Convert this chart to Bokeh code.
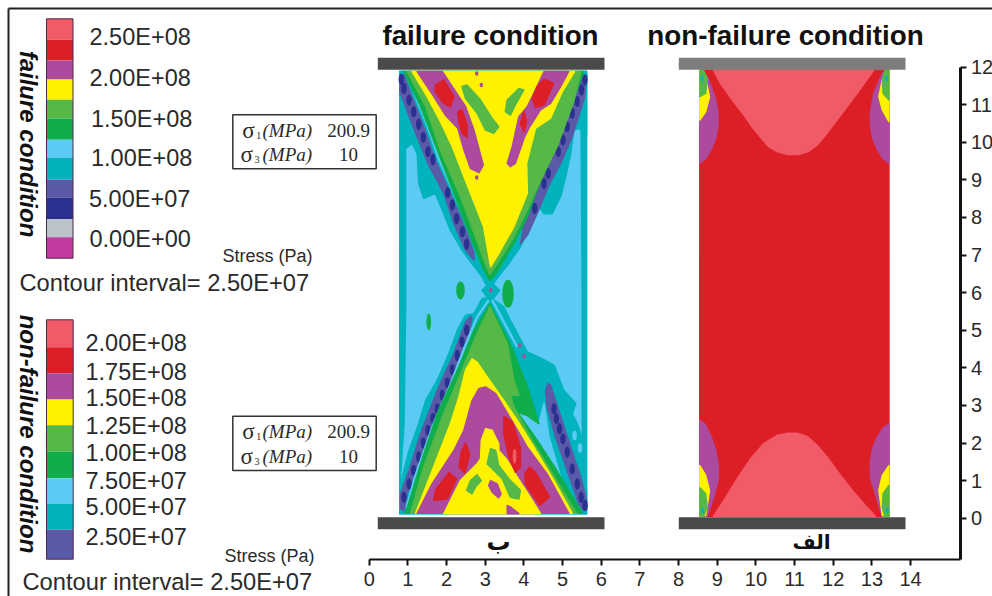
from math import pi
from bokeh.plotting import figure
from bokeh.models import LinearAxis, FixedTicker, Range1d
from bokeh.core.properties import value
from bokeh.embed import file_html
from bokeh.resources import INLINE

# ---------- palette ----------
LR, R, P, Y, G, DG = "#f15a67", "#dc1f26", "#ab4a9e", "#fff200", "#55b847", "#0fae4b"
LB, T, S, N, GR, M = "#5bcbf5", "#00b3bc", "#5a5aa8", "#2b3190", "#b9c3c8", "#c13a9e"

# ---------- legends ----------
LEGEND_A_LABELS = ["2.50E+08", "2.00E+08", "1.50E+08", "1.00E+08", "5.00E+07", "0.00E+00"]
LEGEND_A_COLORS = [LR, R, P, Y, G, DG, LB, T, S, N, GR, M]
LEGEND_B_LABELS = ["2.00E+08", "1.75E+08", "1.50E+08", "1.25E+08", "1.00E+08", "7.50E+07", "5.00E+07", "2.50E+07"]
LEGEND_B_COLORS = [LR, R, P, Y, G, DG, LB, T, S]
X_TICKS = list(range(0, 15))
Y_TICKS = list(range(0, 13))

# ---------- failure specimen outlines (x, y in axis units) ----------
SPEC_A = [(.79, .12), (5.62, .12), (5.62, 11.88), (.79, 11.88)]
EDGE_L = [(.79, 11.88), (.94, 11.88), (.94, 5.5), (.90, 2.5), (.80, 1.0), (.79, .12)]
EDGE_R = [(5.47, 11.88), (5.62, 11.88), (5.62, .12), (5.55, .12), (5.51, 2.5), (5.51, 6.0)]
TEAL_TOP = [(.79, 11.88), (.79, 9.7), (1.11, 9.97), (1.24, 9.70), (1.28, 8.90), (1.41, 8.50), (1.71, 8.64),
            (1.89, 8.19), (2.10, 7.66), (2.40, 7.13), (2.62, 6.82), (2.92, 6.42), (3.01, 6.24), (3.14, 6.10),
            (3.27, 6.33), (3.61, 6.77), (3.91, 7.22), (4.17, 7.75), (4.39, 8.28), (4.52, 8.10), (4.73, 8.10),
            (4.95, 8.55), (5.08, 9.08), (5.21, 9.70), (5.29, 10.32), (5.42, 10.37), (5.62, 10.2), (5.62, 11.88)]
TEAL_MID = [(2.92, 6.06), (3.14, 6.30), (3.37, 6.06), (3.14, 5.75)]
TEAL_BOT = [(.79, .83), (1.03, 1.80), (1.28, 2.51), (1.46, 3.13), (1.76, 3.67), (2.06, 4.38), (2.28, 5.0),
            (2.49, 5.40), (2.71, 5.44), (2.92, 5.84), (3.14, 5.86), (3.48, 5.62), (3.65, 5.26), (4.09, 4.42),
            (4.47, 4.24), (4.78, 4.07), (5.03, 3.40), (5.34, 3.05), (5.25, 2.78), (5.38, 2.51), (5.55, 1.98),
            (5.55, 1.27), (5.62, .74), (5.62, .12), (.79, .12)]
BLUE_WEDGE = [(3.91, 2.85), (4.39, 2.53), (4.52, 3.05), (4.65, 2.16), (4.95, 1.09), (5.25, .20), (5.12, .16),
              (4.34, 1.62), (3.83, 2.73)]
BLUE_SPOT_X, BLUE_SPOT_Y = [5.31, 5.45, 4.17, 4.34], [2.20, 1.87, 2.0, 1.55]

BAND_TL = [(.79, 11.35), (1.15, 10.37), (1.54, 9.39), (1.93, 8.64), (2.19, 7.84), (2.49, 7.13), (2.71, 6.86),
           (2.71, 7.04), (2.53, 7.57), (2.32, 8.10), (2.02, 8.82), (1.71, 9.52), (1.41, 10.41), (1.07, 11.30),
           (.90, 11.79), (.81, 11.79)]
BAND_TR = [(5.62, 11.70), (5.55, 11.12), (5.25, 10.15), (4.99, 9.52), (4.65, 8.86), (4.34, 8.10), (4.09, 7.53),
           (3.91, 7.30), (3.96, 7.53), (4.0, 7.84), (4.26, 8.64), (4.60, 9.44), (4.95, 10.24), (5.21, 10.95),
           (5.51, 11.79)]
BAND_BL = [(2.62, 5.37), (2.49, 5.22), (2.19, 4.38), (1.76, 3.40), (1.33, 2.25), (1.03, 1.27), (.81, .65),
           (.81, .25), (.90, .20), (.98, .65), (1.28, 1.54), (1.63, 2.51), (1.97, 3.31), (2.28, 4.02),
           (2.53, 4.73), (2.66, 5.31)]
BAND_BR = [(4.62, 3.58), (4.56, 3.40), (4.60, 2.96), (4.82, 2.16), (5.12, 1.27), (5.42, .38), (5.55, .20),
           (5.62, .25), (5.62, .47), (5.47, 1.09), (5.21, 1.89), (4.90, 2.87), (4.69, 3.53)]
BEAD_X = [.83, .90, 1.03, 1.15, 1.28, 1.40, 1.52, 1.65, 2.03, 2.15, 2.26, 2.41, 2.52,
          5.58, 5.49, 5.38, 5.25, 5.12, 5.01, 4.89, 4.63, 4.52, 4.28,
          2.52, 2.40, 2.28, 2.15, 2.02, 1.89, 1.76, 1.65, 1.52, 1.40, 1.28, 1.15, 1.03, .90,
          4.78, 4.84, 4.92, 5.01, 5.12, 5.25, 5.38, 5.48, 5.58]
BEAD_Y = [11.67, 11.43, 11.12, 10.81, 10.48, 10.13, 9.75, 9.54, 8.66, 8.33, 7.97, 7.62, 7.29,
          11.66, 11.39, 11.08, 10.77, 10.41, 10.06, 9.75, 9.17, 8.90, 8.24,
          5.0, 4.69, 4.33, 3.95, 3.60, 3.27, 2.91, 2.65, 2.34, 2.0, 1.63, 1.27, .91, .56,
          2.91, 2.65, 2.38, 2.11, 1.76, 1.31, .91, .56, .34]
STRIPE_TL = [(1.17, 11.30), (1.52, 10.41), (1.82, 9.52), (2.12, 8.82), (2.42, 8.10), (2.64, 7.57), (2.92, 6.77), (3.03, 6.50)]
STRIPE_TR = [(5.42, 11.74), (5.12, 10.95), (4.82, 10.19), (4.47, 9.39), (4.17, 8.64), (3.87, 7.84), (3.61, 7.22), (3.35, 6.68)]
STRIPE_BL = [(3.09, 5.80), (2.79, 5.35), (2.49, 4.60), (2.09, 3.53), (1.65, 2.47), (1.2, 1.14), (.97, .29)]
STRIPE_BR = [(3.18, 5.80), (3.48, 5.22), (3.83, 4.55)]

TOP_DG = [(.90, 11.88), (1.33, 10.95), (1.76, 9.79), (2.36, 8.19), (2.96, 6.60), (3.12, 6.33), (3.27, 6.49), (3.74, 7.31),
          (4.09, 8.02), (4.34, 8.73), (4.77, 9.79), (5.21, 10.95), (5.55, 11.88)]
TOP_G = [(.98, 11.88), (1.46, 10.95), (1.84, 9.79), (2.40, 8.46), (3.0, 6.77), (3.12, 6.49), (3.24, 6.67), (3.70, 7.40),
         (4.04, 8.10), (4.43, 8.99), (4.86, 9.88), (5.29, 11.08), (5.47, 11.88)]
TOP_Y = [(1.11, 11.88), (1.50, 11.21), (1.84, 10.55), (2.15, 9.88), (2.62, 8.64), (2.96, 7.75), (3.14, 6.69), (3.35, 7.04),
         (3.74, 7.75), (4.09, 8.64), (4.07, 9.44), (4.30, 10.37), (4.69, 10.64), (4.99, 11.34), (5.31, 11.88)]
TOP_P_L = [(1.24, 11.88), (1.89, 11.88), (2.15, 11.48), (2.49, 10.95), (2.71, 10.32), (2.95, 9.39), (2.84, 9.19), (2.62, 9.30),
           (2.45, 9.79), (2.29, 10.37), (1.97, 10.72), (1.67, 11.21)]
TOP_P_R = [(4.52, 11.88), (5.16, 11.88), (4.95, 11.48), (4.69, 11.03), (4.43, 10.86), (4.15, 10.41), (4.01, 10.12), (3.78, 9.44),
           (3.65, 9.35), (3.57, 9.44), (3.70, 9.88), (3.87, 10.68), (4.09, 10.95), (4.34, 11.48)]
TOP_R1 = [(1.71, 11.52), (1.93, 11.66), (2.19, 11.21), (2.10, 10.95), (1.93, 11.03), (1.71, 11.34)]
TOP_R2 = [(2.29, 10.81), (2.40, 10.87), (2.53, 10.46), (2.53, 10.13), (2.40, 10.24), (2.32, 10.55)]
TOP_R3 = [(4.52, 11.67), (4.77, 11.57), (4.52, 10.99), (4.30, 10.93), (4.22, 11.17), (4.34, 11.48)]
TOP_R4 = [(4.0, 10.81), (4.07, 10.55), (4.0, 10.28), (3.91, 10.50)]
TOP_I1 = [(2.40, 11.48), (2.53, 11.52), (2.88, 11.12), (3.18, 10.63), (3.35, 10.41), (3.22, 10.24), (3.01, 10.32), (2.79, 10.77), (2.49, 11.17)]
TOP_I2 = [(3.87, 11.43), (4.0, 11.39), (3.78, 10.99), (3.65, 10.72), (3.52, 10.81), (3.57, 11.12)]
DOT_P_X, DOT_P_Y = [2.78, 2.90, 2.78, 3.89, 4.0, 3.14], [11.83, 11.52, 9.06, 4.60, 4.31, 6.06]
ISLE_X, ISLE_Y = [2.36, 3.59, 1.54], [6.06, 5.97, 5.22]
ISLE_W, ISLE_H = [.22, .30, .12], [.49, .75, .45]

BOT_DG = [(3.12, 5.69), (2.71, 5.0), (2.28, 3.93), (1.76, 2.78), (1.33, 1.45), (.94, .13), (5.51, .13), (4.80, 1.36),
          (4.26, 2.20), (3.83, 2.82), (4.09, 2.73), (4.39, 2.51), (4.09, 3.49), (3.65, 4.64)]
BOT_G = [(3.12, 5.62), (2.79, 4.91), (2.36, 3.84), (1.89, 2.69), (1.41, 1.36), (1.07, .13), (5.36, .13), (4.73, 1.20),
         (4.19, 2.11), (3.74, 2.96), (3.65, 3.27), (3.87, 3.27), (3.74, 3.67), (3.57, 4.64)]
BOT_Y = [(2.66, 4.24), (2.79, 4.15), (3.05, 3.76), (3.48, 3.13), (3.83, 2.60), (4.26, 1.89), (4.78, 1.0), (5.25, .13),
         (1.2, .13), (1.63, 1.27), (2.10, 2.51), (2.32, 3.22), (2.49, 3.93)]
BOT_P = [(3.01, 3.49), (3.27, 3.31), (3.74, 2.51), (4.09, 1.89), (4.60, 1.18), (5.16, .13), (1.24, .13), (1.63, .92),
         (2.19, 1.80), (2.45, 2.34), (2.66, 3.13), (2.84, 3.45)]
BOT_Y2 = [(3.01, 2.38), (3.18, 2.34), (3.35, 1.98), (3.35, 1.80), (3.57, 1.54), (3.83, 1.09), (4.14, .6), (4.43, .12), (1.93, .12),
          (2.36, 1.0), (2.79, 1.45), (2.88, 1.58), (2.90, 2.07)]
BOT_P2 = [(3.57, .34), (3.65, .30), (3.87, .12), (3.57, .12)]
BOT_P3 = [(3.14, 1.0), (3.31, .91), (3.41, .65), (3.35, .54), (3.18, .69), (3.09, .87)]
BOT_I1 = [(3.14, 1.85), (3.27, 1.80), (3.35, 1.40), (3.61, 1.05), (3.91, .74), (3.87, .51), (3.65, .56), (3.44, 1.05), (3.05, 1.45)]
BOT_I2 = [(2.79, 1.16), (2.90, 1.0), (2.75, .83), (2.66, .65), (2.52, .74), (2.62, 1.0)]
BOT_R1 = [(2.06, 1.21), (2.26, 1.05), (2.02, .52), (1.67, .47), (1.71, .74)]
BOT_R2 = [(2.49, 2.0), (2.60, 1.71), (2.47, 1.20), (2.32, 1.36), (2.38, 1.76)]
BOT_R3 = [(3.48, 2.71), (3.70, 2.56), (3.91, 1.89), (3.91, 1.36), (3.78, 1.22), (3.61, 1.63), (3.48, 2.25)]
BOT_R4 = [(4.15, 1.36), (4.30, 1.22), (4.66, .56), (4.41, .34), (4.04, .91), (4.02, 1.18)]

# ---------- non-failure specimen outlines ----------
SPEC_B = [(8.55, .05), (13.44, .05), (13.44, 11.92), (8.55, 11.92)]
B_TOP_LR = [(8.9, 11.92), (9.08, 11.57), (9.39, 11.12), (9.69, 10.72), (9.90, 10.41), (10.12, 10.13), (10.33, 9.88),
            (10.55, 9.75), (10.81, 9.67), (11.11, 9.67), (11.37, 9.76), (11.58, 9.92), (11.80, 10.19), (12.02, 10.48),
            (12.36, 10.95), (12.71, 11.43), (13.05, 11.92)]
B_BOT_LR = [(8.9, .05), (9.17, .47), (9.52, 1.05), (9.86, 1.58), (10.2, 1.98), (10.55, 2.20), (10.81, 2.26), (11.07, 2.26),
            (11.33, 2.17), (11.58, 1.94), (11.84, 1.63), (12.19, 1.14), (12.53, .69), (12.83, .34), (13.09, .05)]
B_TL_P = [(8.55, 9.44), (8.70, 9.57), (8.83, 9.79), (8.96, 10.10), (9.02, 10.46), (9.02, 10.77), (8.96, 11.12), (8.83, 11.52),
          (8.74, 11.74), (8.55, 11.92)]
B_TL_Y = [(8.55, 10.59), (8.70, 10.81), (8.80, 11.21), (8.70, 11.70), (8.55, 11.92)]
B_TL_G = [(8.55, 11.21), (8.70, 11.30), (8.74, 11.70), (8.65, 11.90), (8.55, 11.92)]
B_TR_P = [(13.44, 9.44), (13.30, 9.55), (13.15, 9.79), (13.02, 10.10), (12.96, 10.46), (12.96, 10.77), (13.05, 11.30),
          (13.27, 11.83), (13.44, 11.92)]
B_TR_Y = [(13.44, 10.55), (13.27, 10.86), (13.18, 11.21), (13.27, 11.66), (13.44, 11.92)]
B_TR_G = [(13.44, 11.12), (13.29, 11.30), (13.27, 11.66), (13.33, 11.90), (13.44, 11.92)]
B_BL_P = [(8.55, 2.60), (8.68, 2.50), (8.83, 2.20), (8.96, 1.80), (9.03, 1.40), (9.03, 1.05), (8.91, .56), (8.74, .05), (8.55, .05)]
B_BL_Y = [(8.55, 1.40), (8.70, 1.14), (8.80, .74), (8.70, .07), (8.55, .05)]
B_BL_G = [(8.55, .81), (8.70, .65), (8.74, .29), (8.65, .05), (8.55, .05)]
B_BR_P = [(13.44, 2.51), (13.28, 2.38), (13.14, 2.16), (13.02, 1.85), (12.96, 1.50), (12.96, 1.09), (13.14, .47), (13.27, .05), (13.44, .05)]
B_BR_Y = [(13.44, 1.40), (13.27, 1.14), (13.18, .74), (13.27, .07), (13.44, .05)]
B_BR_G = [(13.44, .87), (13.29, .65), (13.27, .29), (13.33, .05), (13.44, .05)]
B_DOT_X, B_DOT_Y = [8.61, 13.38, 8.62, 13.40], [11.70, 11.70, .20, .20]

REGIONS = [
    (LB, SPEC_A), (T, EDGE_L), (T, EDGE_R), (T, TEAL_TOP), (T, TEAL_MID), (T, TEAL_BOT), (LB, BLUE_WEDGE),
    (S, BAND_TL), (S, BAND_TR), (S, BAND_BL), (S, BAND_BR),
]
FANS = [
    (DG, TOP_DG), (G, TOP_G), (Y, TOP_Y), (P, TOP_P_L), (P, TOP_P_R), (R, TOP_R1), (R, TOP_R2), (R, TOP_R3), (R, TOP_R4),
    (G, TOP_I1), (G, TOP_I2),
    (DG, BOT_DG), (G, BOT_G), (Y, BOT_Y), (P, BOT_P), (Y, BOT_Y2), (P, BOT_P2), (P, BOT_P3), (G, BOT_I1), (G, BOT_I2),
    (R, BOT_R1), (R, BOT_R2), (R, BOT_R3), (R, BOT_R4),
    (R, SPEC_B), (LR, B_TOP_LR), (LR, B_BOT_LR),
    (P, B_TL_P), (Y, B_TL_Y), (G, B_TL_G), (P, B_TR_P), (Y, B_TR_Y), (G, B_TR_G),
    (P, B_BL_P), (Y, B_BL_Y), (G, B_BL_G), (P, B_BR_P), (Y, B_BR_Y), (G, B_BR_G),
]
STRIPES = [STRIPE_TL, STRIPE_TR, STRIPE_BL, STRIPE_BR]

# ---------- page geometry ----------
W, H = 992, 596
X0, SX, Y0, SY = 368.7, 38.67, 517.7, 37.6
xd = lambda px: (px - X0) / SX
yd = lambda py: (Y0 - py) / SY
SANS, SERIF, AR = value("Liberation Sans"), value("Liberation Serif"), value("DejaVu Sans")

p = figure(width=W, height=H, x_range=Range1d(xd(0), xd(W)), y_range=Range1d(yd(H), yd(0)),
           output_backend="svg", toolbar_location=None, min_border=0, outline_line_color=None,
           x_axis_type=None, y_axis_type=None)
p.xgrid.visible = False
p.ygrid.visible = False


def poly(color, pts):
    p.patch([a for a, _ in pts], [b for _, b in pts], fill_color=color, line_color=color, line_width=1.5, line_join="round")


for c, pts in REGIONS:
    poly(c, pts)
p.ellipse(BLUE_SPOT_X, BLUE_SPOT_Y, width=.12, height=.25, fill_color=LB, line_color=None)
p.ellipse(BEAD_X, BEAD_Y, width=.14, height=.30, fill_color=N, line_color=None)
for s in STRIPES:
    p.line([a for a, _ in s], [b for _, b in s], line_color=LB, line_width=2.5)
for c, pts in FANS:
    poly(c, pts)
p.ellipse([3.76], [1.65], width=.1, height=.4, fill_color=LR, line_color=None)
p.ellipse(DOT_P_X, DOT_P_Y, width=.09, height=.12, fill_color=P, line_color=None)
p.ellipse(ISLE_X, ISLE_Y, width=ISLE_W, height=ISLE_H, fill_color=DG, line_color=None)
p.ellipse(B_DOT_X, B_DOT_Y, width=.07, height=.16, fill_color=T, line_color=None)

# plates
p.quad(left=[xd(377.3), xd(377.3), xd(678.3), xd(678.3)], right=[xd(604), xd(604), xd(905), xd(905)],
       top=[yd(57.3), yd(516.7), yd(57.3), yd(516.7)], bottom=[yd(69.3), yd(528.7), yd(69.3), yd(528.7)],
       fill_color=["#4a4a4a", "#4a4a4a", "#7d7d7d", "#4a4a4a"], line_color=None)

# page frame
p.line([xd(8), xd(W)], [yd(8), yd(8)], line_color="#222222", line_width=2)
p.line([xd(8), xd(8)], [yd(8), yd(H)], line_color="#222222", line_width=2)


def text(x, y, t, size, font=SANS, style="normal", color="#2a2a2a", align="left", angle=0.0):
    p.text([xd(x)], [yd(y)], text=[t], text_font=font, text_font_size=f"{size}px", text_font_style=style,
           text_color=color, text_align=align, text_baseline="middle", angle=angle)


# legend A
edges_a = [18.3, 39.3, 60, 79, 99.3, 118, 139.3, 157.3, 179, 197, 218.7, 236.7, 257.7]
p.quad(left=[xd(46)] * 12, right=[xd(72.5)] * 12, top=[yd(v) for v in edges_a[:-1]], bottom=[yd(v) for v in edges_a[1:]],
       fill_color=LEGEND_A_COLORS, line_color=None)
p.quad(left=[xd(46)], right=[xd(72.5)], top=[yd(18.3)], bottom=[yd(257.7)], fill_color=None, line_color="#4a2a4a", line_width=1)
for t, y, x in zip(LEGEND_A_LABELS, [36, 77, 118, 157, 198, 238], [89, 89, 90.5, 90.5, 88.5, 89]):
    text(x, y, t, 23.5)
text(27.5, 143.5, "failure condition", 24, style="bold italic", color="#111111", align="center", angle=-pi / 2)
text(222, 255, "Stress (Pa)", 18)
text(19, 282, "Contour interval= 2.50E+07", 23.7)

# legend B
edges_b = [319.3, 346.7, 372.7, 399, 424.7, 451, 477.7, 503, 529, 558.7]
p.quad(left=[xd(46)] * 9, right=[xd(72.7)] * 9, top=[yd(v) for v in edges_b[:-1]], bottom=[yd(v) for v in edges_b[1:]],
       fill_color=LEGEND_B_COLORS, line_color=None)
p.quad(left=[xd(46)], right=[xd(72.7)], top=[yd(319.3)], bottom=[yd(558.7)], fill_color=None, line_color="#4a2a4a", line_width=1)
for t, y in zip(LEGEND_B_LABELS, [342.7, 371.3, 397.7, 425.3, 452.7, 480, 506.7, 536.7]):
    text(85, y, t, 23.5)
text(28, 433.5, "non-failure condition", 24, style="bold italic", color="#111111", align="center", angle=-pi / 2)
text(224, 555, "Stress (Pa)", 18)
text(22, 581, "Contour interval= 2.50E+07", 23.7)

# stress boxes
for top, bottom, y1, y2 in [(114.3, 168.3, 130, 154.3), (415.7, 470, 431, 456)]:
    p.quad(left=[xd(232.3)], right=[xd(375.7)], top=[yd(top)], bottom=[yd(bottom)], fill_color="white", line_color="#333333", line_width=1.5)
    for y, sub, val, sx in [(y1, "1", "200.9", 241.7), (y2, "3", "10", 240)]:
        text(sx, y, "\u03c3", 23, font=SERIF)
        text(sx + 14, y + 5, sub, 10, font=SERIF)
        text(262, y, "(MPa)", 19, font=SERIF, style="italic")
        text(348, y, val, 19, font=SERIF, align="center")

# titles
text(490, 35, "failure condition", 27.8, style="bold", color="#111111", align="center")
text(785, 35, "non-failure condition", 27.8, style="bold", color="#111111", align="center")
text(498, 541, "\u0628", 24, font=AR, style="bold", color="#111111", align="center")
text(811, 541, "\u0627\u0644\u0641", 20, font=AR, style="bold", color="#111111", align="center")

# axes
xax = LinearAxis(fixed_location=yd(558.7), bounds=(0, xd(959.5)), ticker=FixedTicker(ticks=X_TICKS))
yax = LinearAxis(fixed_location=xd(959.5), bounds=(yd(558.7), 12), ticker=FixedTicker(ticks=Y_TICKS))
for ax, lw in ((xax, 2), (yax, 3)):
    ax.axis_line_color = "#111111"
    ax.axis_line_width = lw
    ax.major_tick_line_color = "#111111"
    ax.major_tick_line_width = 2
    ax.major_tick_in = 0
    ax.major_tick_out = 6
    ax.minor_tick_line_color = None
    ax.major_label_text_font = "Liberation Sans"
    ax.major_label_text_font_size = "20px"
    ax.major_label_text_color = "#2a2a2a"
xax.major_label_standoff = 7
yax.major_label_standoff = 5
p.add_layout(xax, "below")
p.add_layout(yax, "right")

open("out.html", "w").write(file_html(p, INLINE))
